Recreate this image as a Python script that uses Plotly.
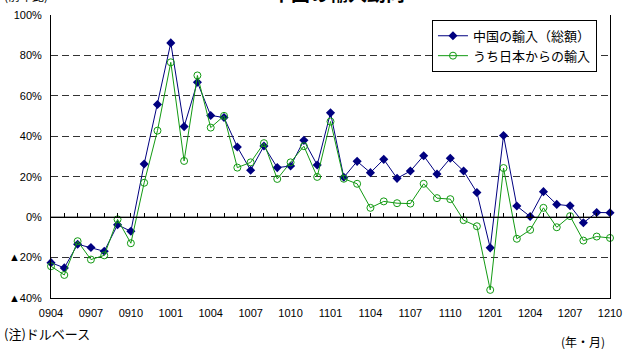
import plotly.graph_objects as go

months = ["0904","0905","0906","0907","0908","0909","0910","0911","0912",
          "1001","1002","1003","1004","1005","1006","1007","1008","1009","1010","1011","1012",
          "1101","1102","1103","1104","1105","1106","1107","1108","1109","1110","1111","1112",
          "1201","1202","1203","1204","1205","1206","1207","1208","1209","1210"]
china_total = [-22.5, -25.1, -13.4, -15.0, -16.9, -3.8, -7.0, 26.3, 55.7,
               86.2, 44.8, 66.7, 50.3, 49.3, 34.7, 23.2, 35.2, 24.5, 25.3, 38.0, 25.8,
               51.6, 19.7, 27.6, 22.0, 28.6, 19.2, 22.8, 30.4, 21.3, 29.1, 22.8, 12.2,
               -15.2, 40.4, 5.5, 0.3, 12.6, 6.3, 5.6, -2.8, 2.3, 2.2]
from_japan = [-24.3, -28.6, -11.9, -21.0, -18.9, -1.1, -12.9, 17.0, 42.8,
              76.6, 27.8, 70.1, 44.3, 50.1, 24.5, 27.1, 36.6, 18.9, 27.1, 35.1, 19.9,
              47.3, 19.0, 16.5, 4.6, 7.8, 6.9, 6.7, 16.5, 9.4, 8.9, -1.5, -4.5,
              -36.0, 24.3, -10.7, -6.3, 4.6, -5.0, 0.5, -11.6, -9.6, -10.3]
y_ticks = [-40, -20, 0, 20, 40, 60, 80, 100]
y_tick_labels = ["▲40%", "▲20%", "0%", "20%", "40%", "60%", "80%", "100%"]
x_tick_labels = ["0904","0907","0910","1001","1004","1007","1010","1101","1104",
                 "1107","1110","1201","1204","1207","1210"]

idx = list(range(len(months)))
x_tick_vals = [months.index(m) for m in x_tick_labels]

FONT = "Liberation Sans, Arial, Noto Sans CJK JP, sans-serif"
JFONT = "Noto Sans CJK JP, sans-serif"

fig = go.Figure()
fig.add_trace(go.Scatter(
    x=idx, y=china_total, mode="lines+markers", name="中国の輸入（総額）",
    line=dict(color="#000080", width=1),
    marker=dict(symbol="diamond", size=7, color="#000080"),
    cliponaxis=False))
fig.add_trace(go.Scatter(
    x=idx, y=from_japan, mode="lines+markers", name="うち日本からの輸入",
    line=dict(color="#129a12", width=1),
    marker=dict(symbol="circle-open", size=7, color="#129a12", line=dict(width=1)),
    cliponaxis=False))
# helper trace on the zero-line axis (for monthly ticks)
fig.add_trace(go.Scatter(x=[0, 42], y=[0, 0], xaxis="x2", mode="lines",
                         line=dict(color="black", width=1), showlegend=False,
                         hoverinfo="skip"))

fig.update_layout(
    width=623, height=349,
    margin=dict(l=51, r=13, t=15, b=51, autoexpand=False),
    paper_bgcolor="white", plot_bgcolor="white",
    font=dict(family=FONT, size=11, color="black"),
    showlegend=True,
    legend=dict(x=0.9767, y=0.983, xanchor="right", yanchor="top",
                bgcolor="white", bordercolor="black", borderwidth=1,
                font=dict(family=JFONT, size=13), itemwidth=30,
                tracegroupgap=0),
    xaxis=dict(range=[0, 42], tickmode="array", tickvals=x_tick_vals,
               ticktext=x_tick_labels, showgrid=False, zeroline=False,
               showline=True, linecolor="black", linewidth=1, automargin=False,
               ticks="outside", ticklen=5, tickcolor="rgba(0,0,0,0)",
               tickfont=dict(size=11)),
    xaxis2=dict(range=[0, 42], overlaying="x", anchor="free", position=40/140,
                side="bottom", showline=True, linecolor="black", linewidth=1,
                ticks="inside", ticklen=4, tickcolor="black", dtick=1, tick0=0,
                showticklabels=False, showgrid=False, zeroline=False,
                automargin=False),
    yaxis=dict(range=[-40, 100], tickmode="array", tickvals=y_ticks,
               ticktext=y_tick_labels, showgrid=True, gridcolor="#333333",
               griddash="7px,4px", gridwidth=1, zeroline=True,
               zerolinecolor="black", zerolinewidth=1, automargin=False,
               showline=True, linecolor="black", linewidth=1, mirror=True,
               ticks="outside", ticklen=6, tickcolor="rgba(0,0,0,0)",
               tickfont=dict(size=11)),
)

anns = [
    dict(text="<b>中国の輸入動向</b>", x=338, y=349 - 7, font=dict(family=JFONT, size=19),
         xanchor="center", yanchor="bottom"),
    dict(text="(前年比)", x=3, y=349 - 5, font=dict(family=JFONT, size=12),
         xanchor="left", yanchor="bottom"),
    dict(text="(注)ドルベース", x=3, y=349 - 323, font=dict(family=JFONT, size=13),
         xanchor="left", yanchor="top"),
    dict(text="(資料)中国税関総署、CEIC", x=3, y=349 - 345, font=dict(family=JFONT, size=13),
         xanchor="left", yanchor="top"),
    dict(text="(年・月)", x=606, y=349 - 332, font=dict(family=JFONT, size=12),
         xanchor="right", yanchor="top"),
]
for a in anns:
    fig.add_annotation(xref="paper", yref="paper",
                       x=(a["x"] - 51) / 559, y=(a["y"] - 51) / 283,
                       text=a["text"], showarrow=False, font=a["font"],
                       xanchor=a["xanchor"], yanchor=a["yanchor"],
                       borderpad=0)

fig.write_html("out.html", config={"displayModeBar": False},
               post_script="document.body.style.margin='0';document.body.style.overflow='hidden';")
